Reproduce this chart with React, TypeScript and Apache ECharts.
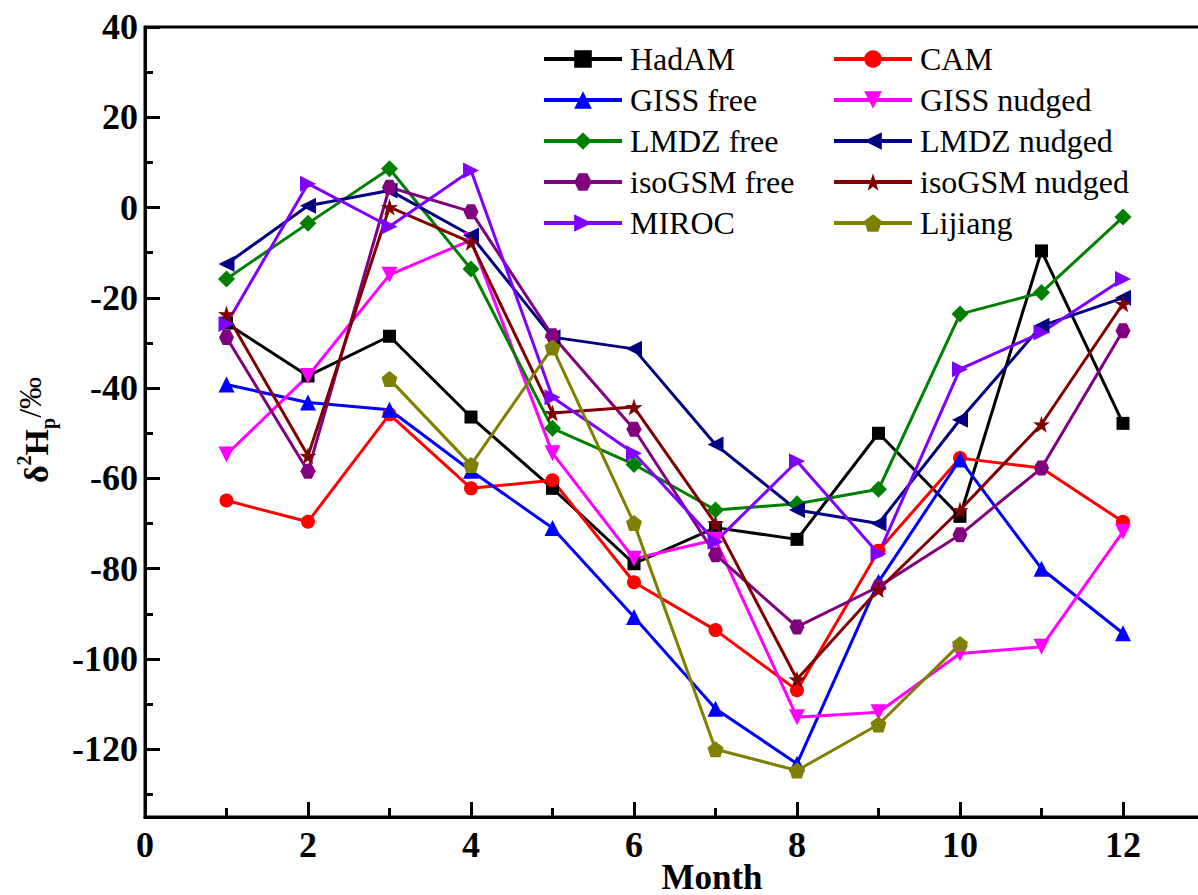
import React, { useEffect, useRef } from "react";
import * as echarts from "echarts";

const months = [1, 2, 3, 4, 5, 6, 7, 8, 9, 10, 11, 12];
const hadam = [-25.6, -37.3, -28.5, -46.4, -62.2, -78.9, -70.9, -73.5, -50, -68.4, -9.6, -47.8];
const cam = [-64.9, -69.6, -45.8, -62.2, -60.4, -83, -93.6, -106.9, -76, -55.5, -57.7, -69.6];
const gissFree = [-39.2, -43.2, -44.8, -58.3, -71, -90.7, -111, -123.2, -82.9, -55.8, -80, -94.3];
const gissNudged = [-54.7, -37.3, -14.9, -7.2, -54.4, -77.8, -73.6, -112.9, -111.8, -98.8, -97.3, -71.8];
const lmdzFree = [-15.8, -3.5, 8.6, -13.6, -48.9, -56.9, -67, -65.6, -62.4, -23.6, -18.8, -2.1];
const lmdzNudged = [-12.5, 0.4, 3.8, -6.2, -28.7, -31.3, -52.5, -67, -70, -47, -26.2, -20];
const isoFree = [-28.8, -58.4, 4.5, -0.9, -28.4, -49.1, -76.9, -92.9, -84, -72.5, -57.7, -27.3];
const isoNudged = [-23.6, -55, 0.1, -7.7, -45.5, -44.2, -70, -104.5, -84.6, -67, -48, -21.3];
const miroc = [-25.8, 5.3, -4.2, 8.2, -42, -54.4, -74, -56.2, -76.7, -35.8, -27.7, -15.8];
const lijiang = [null, null, -38, -57, -31, -69.9, -120, -124.7, -114.5, -96.7, null, null];

const yMajorTicks = [-120, -100, -80, -60, -40, -20, 0, 20, 40];
const yMinorTicks = [-130, -110, -90, -70, -50, -30, -10, 10, 30];
const xMajorTicks = [0, 2, 4, 6, 8, 10, 12];
const xMinorTicks = [1, 3, 5, 7, 9, 11];

const HEX = "path://M25,0 L75,0 L100,50 L75,100 L25,100 L0,50 Z";
const STAR =
  "path://M50,0 L61.8,35.5 L97.6,34.5 L69,56.5 L79.4,90.5 L50,70 L20.6,90.5 L31,56.5 L2.4,34.5 L38.2,35.5 Z";
const PENT = "path://M50,0 L97.6,34.5 L79.4,90.5 L20.6,90.5 L2.4,34.5 Z";

const seriesDefs = [
  { name: "HadAM", data: hadam, color: "#000000", symbol: "rect", size: 13, rot: 0 },
  { name: "CAM", data: cam, color: "#ff0000", symbol: "circle", size: 14, rot: 0 },
  { name: "GISS free", data: gissFree, color: "#0000ff", symbol: "triangle", size: 16, rot: 0 },
  { name: "GISS nudged", data: gissNudged, color: "#ff00ff", symbol: "triangle", size: 16, rot: 180 },
  { name: "LMDZ free", data: lmdzFree, color: "#008000", symbol: "diamond", size: 17, rot: 0 },
  { name: "LMDZ nudged", data: lmdzNudged, color: "#000080", symbol: "triangle", size: 16, rot: 90 },
  { name: "isoGSM free", data: isoFree, color: "#800080", symbol: HEX, size: 15, rot: 0 },
  { name: "isoGSM nudged", data: isoNudged, color: "#800000", symbol: STAR, size: 17, rot: 0 },
  { name: "MIROC", data: miroc, color: "#8000ff", symbol: "triangle", size: 16, rot: -90 },
  { name: "Lijiang", data: lijiang, color: "#808000", symbol: PENT, size: 16, rot: 0 },
];

const FONT = "Liberation Serif";

export default function App() {
  const ref = useRef<HTMLDivElement>(null);
  useEffect(() => {
    if (!ref.current) return;
    const chart = echarts.init(ref.current, undefined, { renderer: "svg" });
    const legendText = {
      fontFamily: FONT,
      fontSize: 32,
      fontWeight: "normal",
      color: "#000",
      rich: {
        t: {
          fontFamily: FONT,
          fontSize: 32,
          fontWeight: "normal",
          color: "#000",
          padding: [0, 0, 0, 3],
        },
      },
    };
    const legendBase = {
      orient: "vertical",
      top: 38,
      itemWidth: 78,
      itemHeight: 22,
      itemGap: 9,
      textStyle: legendText,
      formatter: "{t|{name}}",
      lineStyle: { width: 4 },
    };
    const option: any = {
      animation: false,
      backgroundColor: "#fff",
      textStyle: { fontFamily: FONT },
      grid: {
        left: 145,
        top: 27,
        width: 1059.5,
        height: 790,
        show: true,
        borderColor: "#000",
        borderWidth: 3,
        backgroundColor: "transparent",
      },
      legend: [
        {
          ...legendBase,
          left: 537,
          data: seriesDefs.filter((_, i) => i % 2 === 0).map((s) => s.name),
        },
        {
          ...legendBase,
          left: 827,
          data: seriesDefs.filter((_, i) => i % 2 === 1).map((s) => s.name),
        },
      ],
      xAxis: [
        {
          type: "value",
          min: 0,
          max: 13,
          position: "bottom",
          axisLine: { show: true, onZero: false, lineStyle: { color: "#000", width: 3 } },
          axisTick: {
            show: true,
            inside: true,
            length: 15,
            lineStyle: { color: "#000", width: 3 },
            customValues: xMajorTicks,
          },
          axisLabel: {
            show: true,
            customValues: xMajorTicks,
            margin: 10,
            fontFamily: FONT,
            fontWeight: "bold",
            fontSize: 36,
            color: "#000",
          },
          splitLine: { show: false },
        },
        {
          type: "value",
          min: 0,
          max: 13,
          position: "bottom",
          axisLine: { show: false, onZero: false },
          axisTick: {
            show: true,
            inside: true,
            length: 9,
            lineStyle: { color: "#000", width: 3 },
            customValues: xMinorTicks,
          },
          axisLabel: { show: false },
          splitLine: { show: false },
        },
      ],
      yAxis: [
        {
          type: "value",
          min: -135,
          max: 40,
          position: "left",
          axisLine: { show: true, onZero: false, lineStyle: { color: "#000", width: 3 } },
          axisTick: {
            show: true,
            inside: true,
            length: 15,
            lineStyle: { color: "#000", width: 3 },
            customValues: yMajorTicks,
          },
          axisLabel: {
            show: true,
            customValues: yMajorTicks,
            margin: 7,
            fontFamily: FONT,
            fontWeight: "bold",
            fontSize: 36,
            color: "#000",
          },
          splitLine: { show: false },
        },
        {
          type: "value",
          min: -135,
          max: 40,
          position: "left",
          axisLine: { show: false, onZero: false },
          axisTick: {
            show: true,
            inside: true,
            length: 8,
            lineStyle: { color: "#000", width: 3 },
            customValues: yMinorTicks,
          },
          axisLabel: { show: false },
          splitLine: { show: false },
        },
      ],
      graphic: [
        {
          type: "text",
          x: 712,
          y: 877,
          style: {
            text: "Month",
            fontFamily: FONT,
            fontWeight: "bold",
            fontSize: 35,
            fill: "#000",
            align: "center",
            verticalAlign: "middle",
          },
        },
        {
          type: "text",
          x: 36,
          y: 430,
          rotation: Math.PI / 2,
          style: {
            text: "{a|δ}{sup|2}{a|H}{sub|p}{b|/‰}",
            align: "center",
            verticalAlign: "middle",
            fill: "#000",
            rich: {
              a: { fontFamily: FONT, fontWeight: "bold", fontSize: 34, lineHeight: 44, fill: "#000", verticalAlign: "middle" },
              sup: { fontFamily: FONT, fontWeight: "bold", fontSize: 20, lineHeight: 20, fill: "#000", verticalAlign: "top" },
              sub: { fontFamily: FONT, fontWeight: "bold", fontSize: 20, lineHeight: 20, fill: "#000", verticalAlign: "bottom" },
              b: { fontFamily: FONT, fontSize: 32, lineHeight: 44, fill: "#000", verticalAlign: "top" },
            },
          },
        },
      ],
      series: seriesDefs.map((s) => ({
        name: s.name,
        type: "line",
        xAxisIndex: 0,
        yAxisIndex: 0,
        data: months.map((m, i) => [m, s.data[i]]),
        symbol: s.symbol,
        symbolSize: s.size,
        symbolRotate: s.rot,
        showAllSymbol: true,
        connectNulls: false,
        lineStyle: { color: s.color, width: 3 },
        itemStyle: { color: s.color },
        emphasis: { disabled: true },
      })),
    };
    chart.setOption(option);
    return () => chart.dispose();
  }, []);
  return (
    <div
      ref={ref}
      style={{ position: "fixed", left: 0, top: 0, width: 1215, height: 895, background: "#fff" }}
    />
  );
}
